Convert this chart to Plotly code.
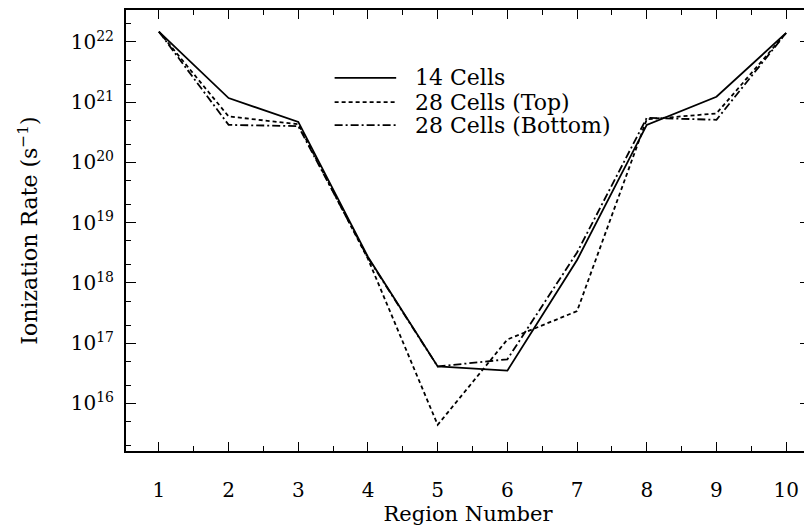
import plotly.graph_objects as go

# ---- data ----
regions = [1, 2, 3, 4, 5, 6, 7, 8, 9, 10]
cells14 = [1.48e22, 1.17e21, 4.7e20, 2.7e18, 4.1e16, 3.5e16, 2.4e18, 4.2e20, 1.23e21, 1.41e22]
cells28_top = [1.48e22, 5.8e20, 4.3e20, 2.5e18, 4.4e15, 1.15e17, 3.4e17, 5.2e20, 6.5e20, 1.41e22]
cells28_bottom = [1.48e22, 4.2e20, 4.0e20, 2.6e18, 4.1e16, 5.4e16, 3.2e18, 5.5e20, 5.1e20, 1.41e22]
series_names = ["14 Cells", "28 Cells (Top)", "28 Cells (Bottom)"]
y_tick_exponents = [16, 17, 18, 19, 20, 21, 22]
x_tick_labels = [str(r) for r in regions]

FONT = "DejaVu Serif"
dashes = ["solid", "4px,3px", "8px,3px,2px,3px"]
series = [cells14, cells28_top, cells28_bottom]

fig = go.Figure()
for name, ys, d in zip(series_names, series, dashes):
    fig.add_trace(go.Scatter(x=regions, y=ys, mode="lines", name=name,
                             line=dict(color="black", width=1.8, dash=d),
                             showlegend=False))

# manual legend (rows placed like the original key)
leg_x0, leg_x1, leg_tx = 0.305, 0.395, 0.42
leg_rows = [0.846, 0.791, 0.739]
for name, d, yy in zip(series_names, dashes, leg_rows):
    fig.add_shape(type="line", xref="paper", yref="paper", x0=leg_x0, x1=leg_x1,
                  y0=yy, y1=yy, line=dict(color="black", width=1.8, dash=d))
    fig.add_annotation(xref="paper", yref="paper", x=leg_tx, y=yy, text=name,
                       showarrow=False, xanchor="left", yanchor="middle",
                       font=dict(family=FONT, size=22, color="black"))

fig.update_xaxes(range=[0.528, 10.342], tickvals=regions, ticktext=x_tick_labels,
                 ticks="inside", ticklen=9, tickwidth=1.3, tickcolor="black",
                 showline=True, linecolor="black", linewidth=2, mirror="allticks",
                 showgrid=False, zeroline=False, ticklabelstandoff=20,
                 minor=dict(dtick=0.5, tick0=0.5, ticks="inside", ticklen=5, tickcolor="black", showgrid=False),
                 tickfont=dict(family=FONT, size=20, color="black"),
                 title=dict(text="Region Number", font=dict(family=FONT, size=21, color="black"), standoff=8))

fig.update_yaxes(type="log", range=[15.21, 22.53],
                 tickvals=[10.0 ** e for e in y_tick_exponents],
                 ticktext=["10<sup>%d</sup>" % e for e in y_tick_exponents],
                 ticks="inside", ticklen=10, tickwidth=1.3, tickcolor="black",
                 showline=True, linecolor="black", linewidth=2, mirror="allticks",
                 showgrid=False, zeroline=False, ticklabelstandoff=6,
                 minor=dict(ticks="inside", ticklen=5, tickcolor="black", showgrid=False),
                 tickfont=dict(family=FONT, size=20, color="black"),
                 title=dict(text="Ionization Rate (s<sup>−1</sup>)", font=dict(family=FONT, size=22, color="black"), standoff=27))

# the page adds an 8px body margin, so the figure is sized to end at the window edge
fig.update_layout(width=804, height=518, margin=dict(l=118, r=0, t=2, b=75),
                  plot_bgcolor="white", paper_bgcolor="white", showlegend=False)

fig.write_html("out.html")
